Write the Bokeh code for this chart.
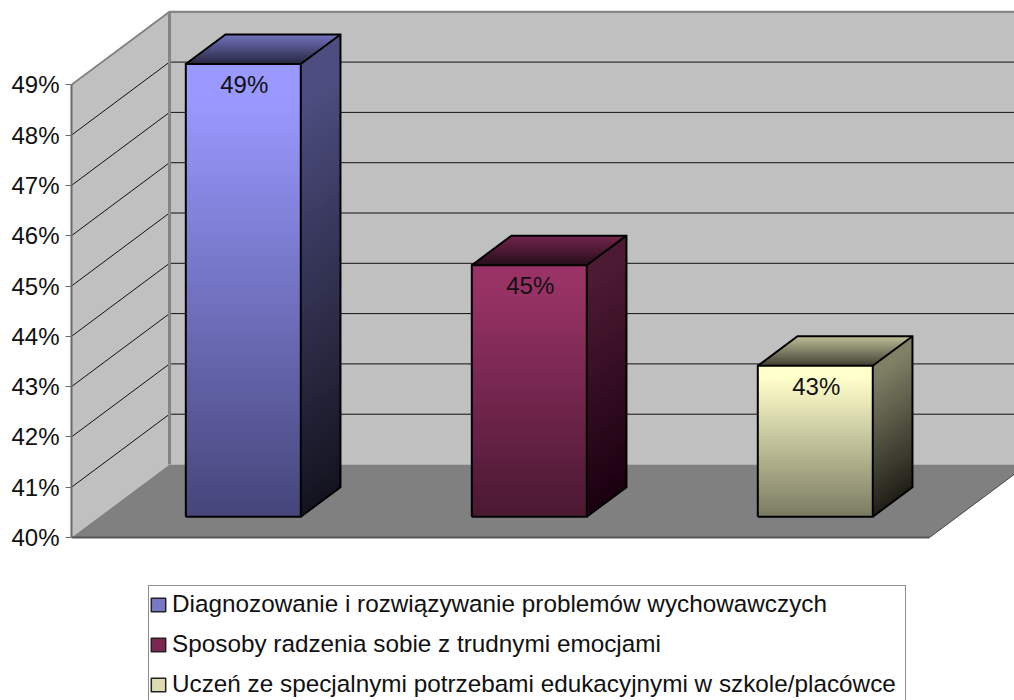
from bokeh.plotting import figure
from bokeh.models import Range1d, LinearAxis, FixedTicker, PrintfTickFormatter, Legend, LegendItem
from bokeh.core.properties import value
from bokeh.embed import file_html
from bokeh.resources import INLINE

# ---- data ----
categories = ["Diagnozowanie i rozwiązywanie problemów wychowawczych",
              "Sposoby radzenia sobie z trudnymi emocjami",
              "Uczeń ze specjalnymi potrzebami edukacyjnymi w szkole/placówce"]
values = [49, 45, 43]
axis_ticks = list(range(40, 50))

# gradient end colours (top, bottom) for each series
front_cols = [((153, 153, 255), (69, 69, 122)), ((153, 51, 102), (74, 24, 50)), ((255, 255, 204), (122, 122, 97))]
side_cols = [((77, 77, 128), (20, 20, 31)), ((77, 26, 51), (26, 0, 16)), ((128, 128, 102), (32, 32, 24))]
top_cols = [((115, 115, 191), (38, 38, 64)), ((115, 38, 77), (38, 13, 26)), ((191, 191, 153), (64, 64, 51))]
legend_cols = ["#7878c4", "#7a2850", "#dcdcb0"]

# ---- scale of the pseudo-3D box ----
PX_PER_CAT = 286.0
PX_PER_PCT = 50.3
DEPTH_X = 98 / PX_PER_CAT
DEPTH_Y = 73 / PX_PER_PCT
BAR_L, BAR_W = 0.302, 0.402
Z0, Z1 = 0.285, 0.69
BASE = 40
TOP = 49
N_STEPS = 64
HOLD = 0.08  # share of a bar's height that keeps the top colour


def pr(c, v, z=0.0):
    return c + z * DEPTH_X, v + z * DEPTH_Y


def lerp(a, b, t):
    return tuple(int(round(a[i] + (b[i] - a[i]) * t)) for i in range(3))


def hexc(c):
    return "#%02x%02x%02x" % c


def ease(t):
    return max(0.0, (t - HOLD) / (1 - HOLD))


FIG_W, FIG_H = 1014, 700
FRAME_L = 71
BASE_PX = 537

x_end = (FIG_W - FRAME_L) / PX_PER_CAT
y_low = BASE - (FIG_H - BASE_PX) / PX_PER_PCT
y_high = y_low + FIG_H / PX_PER_PCT

p = figure(width=FIG_W, height=FIG_H, output_backend="svg", toolbar_location=None,
           x_range=Range1d(0, x_end), y_range=Range1d(y_low, y_high),
           x_axis_type=None, y_axis_type=None,
           min_border_left=FRAME_L, min_border_right=0, min_border_top=0,
           min_border_bottom=0, outline_line_color=None,
           background_fill_color="white", border_fill_color="white")
p.grid.visible = False


def poly(pts, **kw):
    p.patch([a for a, _ in pts], [b for _, b in pts], **kw)


far = x_end + 1
# back wall
poly([pr(0, BASE, 1), pr(far, BASE, 1), pr(far, TOP, 1), pr(0, TOP, 1)],
     fill_color="#c0c0c0", line_color=None)
# side wall
poly([pr(0, BASE), pr(0, BASE, 1), pr(0, TOP, 1), pr(0, TOP)],
     fill_color="#c0c0c0", line_color=None)
# floor
poly([pr(0, BASE), pr(3, BASE), pr(3, BASE, 1), pr(far, BASE, 1), pr(0, BASE, 1)],
     fill_color="#808080", line_color=None)

# grid lines
for t in axis_ticks[1:]:
    a, b, c = pr(0, t), pr(0, t, 1), pr(far, t, 1)
    p.line([a[0], b[0], c[0]], [a[1], b[1], c[1]], line_color="#111111", line_width=1)

# wall edges
for seg, w in (([pr(0, BASE, 1), pr(0, TOP, 1)], 3),
               ([pr(0, TOP), pr(0, TOP, 1), pr(far, TOP, 1)], 2)):
    p.line([a for a, _ in seg], [b for _, b in seg], line_color="#858585", line_width=w)
seg = [pr(0, BASE), pr(3, BASE)]
p.line([a for a, _ in seg], [b for _, b in seg], line_color="#555555", line_width=2)
seg = [pr(3, BASE), pr(3, BASE, 1)]
p.line([a for a, _ in seg], [b for _, b in seg], line_color="#444444", line_width=1)

# bars
legend_items = []
for i, (name, v) in enumerate(zip(categories, values)):
    c0 = i + BAR_L
    c1 = c0 + BAR_W
    # gradients: painted back-to-front, each band reaching to the far end, so no seams
    for s in range(N_STEPS):
        t0 = s / N_STEPS
        v0 = v + (BASE - v) * t0
        col = hexc(lerp(*front_cols[i], ease(t0 + 0.5 / N_STEPS)))
        poly([pr(c0, v0, Z0), pr(c1, v0, Z0), pr(c1, BASE, Z0), pr(c0, BASE, Z0)],
             fill_color=col, line_color=None)
        col = hexc(lerp(*side_cols[i], ease(t0 + 0.5 / N_STEPS)))
        poly([pr(c1, v0, Z0), pr(c1, v0, Z1), pr(c1, BASE, Z1), pr(c1, BASE, Z0)],
             fill_color=col, line_color=None)
    for s in range(24):
        z0 = Z1 + (Z0 - Z1) * s / 24
        col = hexc(lerp(*top_cols[i], (s + 0.5) / 24))
        poly([pr(c0, v, z0), pr(c1, v, z0), pr(c1, v, Z0), pr(c0, v, Z0)],
             fill_color=col, line_color=None)
    # outlines
    outline = [[pr(c0, BASE, Z0), pr(c1, BASE, Z0), pr(c1, v, Z0), pr(c0, v, Z0), pr(c0, BASE, Z0)],
               [pr(c1, BASE, Z0), pr(c1, BASE, Z1), pr(c1, v, Z1), pr(c0, v, Z1), pr(c0, v, Z0)],
               [pr(c1, v, Z0), pr(c1, v, Z1)]]
    for o in outline:
        p.line([a for a, _ in o], [b for _, b in o], line_color="black", line_width=2, line_join="miter")
    # data label
    lx, ly = pr((c0 + c1) / 2, v, Z0)
    p.text([lx], [ly], text=["%d%%" % v], text_align="center", text_baseline="top", y_offset=7, x_offset=1,
           text_font_size="24px", text_font=value("Liberation Sans"), text_color="#111111")
    # legend proxy: sits left of the visible range, only its swatch shows (in the legend)
    r = p.rect([-5], [v], width=0.1, height=0.1, fill_color=legend_cols[i], line_color="#222222", line_width=1.5)
    legend_items.append(LegendItem(label=name, renderers=[r]))

# real y axis
yaxis = LinearAxis(ticker=FixedTicker(ticks=axis_ticks), bounds=(BASE, TOP),
                   formatter=PrintfTickFormatter(format="%d%%"))
yaxis.axis_line_color = "#6a6a6a"
yaxis.axis_line_width = 2
yaxis.major_tick_line_color = "#6a6a6a"
yaxis.major_tick_line_width = 1
yaxis.major_tick_in = 0
yaxis.major_tick_out = 6
yaxis.minor_tick_line_color = None
yaxis.major_label_standoff = 6
yaxis.major_label_text_font = "Liberation Sans"
yaxis.major_label_text_font_size = "24px"
yaxis.major_label_text_color = "#111111"
p.add_layout(yaxis, "left")

legend = Legend(items=legend_items, location=(148 - FRAME_L, -3), orientation="vertical",
                label_text_font="Liberation Sans", label_text_font_size="24.3px", label_text_color="#111111",
                glyph_width=18, glyph_height=17, label_standoff=5, spacing=4, label_height=36, label_width=733,
                padding=0, margin=0, border_line_color="#222222", border_line_width=1,
                background_fill_color="white", background_fill_alpha=1.0)
p.add_layout(legend, "center")

html = file_html(p, INLINE)
open("out.html", "w").write(html)
